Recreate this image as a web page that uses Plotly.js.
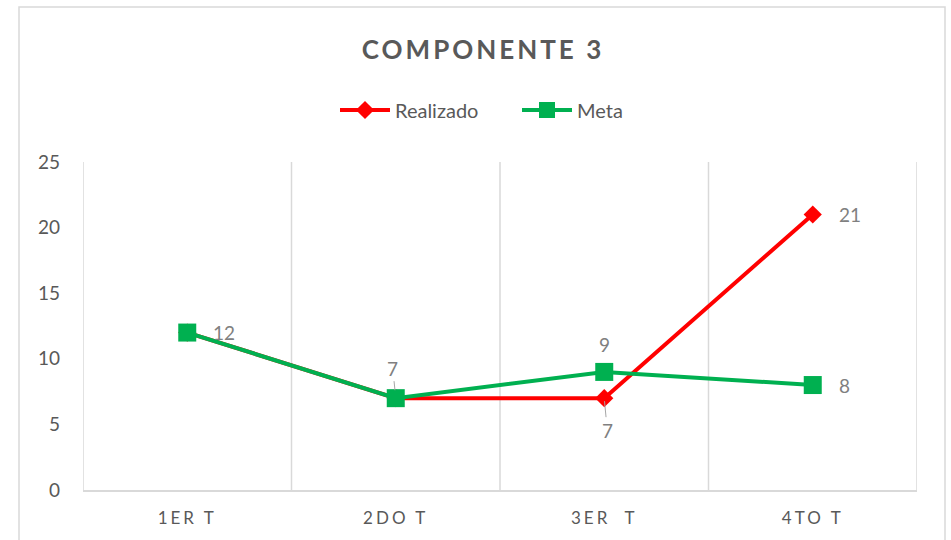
<!DOCTYPE html>
<html>
<head>
<meta charset="utf-8">
<script src="https://cdn.plot.ly/plotly-3.0.1.min.js"></script>
<style>
  html, body { margin: 0; padding: 0; background: #fff; }
  #chart { width: 951px; height: 540px; }
</style>
</head>
<body>
<div id="chart"></div>
<script>
// ---- data ----
const categories = ["1ER T", "2DO T", "3ER  T", "4TO T"];
const realizado = [12, 7, 7, 21];
const meta = [12, 7, 9, 8];
const yTicks = [0, 5, 10, 15, 20, 25];

const FONT = "Lato, 'Open Sans', sans-serif";
const idx = categories.map((c, i) => i);

const traces = [
  {
    name: "Realizado", type: "scatter", mode: "lines+markers",
    x: idx, y: realizado,
    line: { color: "#FF0000", width: 4 },
    marker: { symbol: "diamond", size: 14, color: "#FF0000" }
  },
  {
    name: "Meta", type: "scatter", mode: "lines+markers",
    x: idx, y: meta,
    line: { color: "#00B050", width: 4 },
    marker: { symbol: "square", size: 18, color: "#00B050" }
  }
];

const lblFont = { family: FONT, size: 19, color: "#808080" };
const annotations = [
  { x: 0, y: meta[0], text: String(meta[0]), xanchor: "left", xshift: 24, showarrow: false },
  { x: 1, y: meta[1], text: String(meta[1]), showarrow: true, ax: -3, ay: -30, arrowhead: 0, arrowwidth: 1, arrowcolor: "#A6A6A6", standoff: 8 },
  { x: 2, y: meta[2], text: String(meta[2]), showarrow: false, yshift: 27 },
  { x: 2, y: realizado[2], text: String(realizado[2]), showarrow: true, ax: 3, ay: 32, arrowhead: 0, arrowwidth: 1, arrowcolor: "#A6A6A6", standoff: 3 },
  { x: 3, y: realizado[3], text: String(realizado[3]), xanchor: "left", xshift: 24, showarrow: false },
  { x: 3, y: meta[3], text: String(meta[3]), xanchor: "left", xshift: 24, showarrow: false }
].map(a => Object.assign({ xref: "x", yref: "y", font: lblFont }, a));

const L = 83, R = 34, T = 162, B = 50, W = 951, H = 540;
const pw = W - L - R, ph = H - T - B;
const toPx = (px) => (px - L) / pw;
const toPy = (py) => (H - B - py) / ph;

const layout = {
  width: W, height: H,
  margin: { l: L, r: R, t: T, b: B },
  paper_bgcolor: "#ffffff", plot_bgcolor: "#ffffff",
  font: { family: FONT, color: "#595959" },
  title: {
    text: "<b>COMPONENTE 3</b>",
    font: { family: FONT, size: 26, color: "#595959" },
    x: 483 / W, xanchor: "center", xref: "container",
    y: 1 - 50 / H, yanchor: "middle", yref: "container"
  },
  showlegend: true,
  legend: {
    orientation: "h", xref: "container", yref: "container",
    x: 335 / W, xanchor: "left", y: 1 - 110 / H, yanchor: "middle",
    font: { family: FONT, size: 20, color: "#595959" },
    itemwidth: 50, entrywidth: 117, entrywidthmode: "pixels"
  },
  xaxis: {
    type: "linear", range: [-0.5, 3.5],
    tickmode: "array", tickvals: idx, ticktext: categories,
    showgrid: false, zeroline: false,
    showline: true, linecolor: "#D9D9D9", linewidth: 1.5,
    ticks: "", ticklabelstandoff: 12,
    tickfont: { family: FONT, size: 17, color: "#595959" },
    fixedrange: true
  },
  yaxis: {
    range: [0, 25], tickmode: "array", tickvals: yTicks,
    showgrid: false, zeroline: false, showline: false, ticks: "",
    ticklabelstandoff: 22,
    tickfont: { family: FONT, size: 19, color: "#595959" },
    fixedrange: true
  },
  shapes: [
    ...[-0.5, 0.5, 1.5, 2.5, 3.5].map(v => ({
      type: "line", xref: "x", yref: "y", x0: v, x1: v, y0: 0, y1: 25,
      line: { color: "#D9D9D9", width: 1.5 }, layer: "below"
    })),
    {
      type: "rect", xref: "paper", yref: "paper",
      x0: toPx(19), x1: toPx(945), y0: toPy(560), y1: toPy(7),
      line: { color: "#D9D9D9", width: 1.5 }, fillcolor: "rgba(0,0,0,0)", layer: "below"
    }
  ],
  annotations: annotations
};

Plotly.newPlot("chart", traces, layout, { displayModeBar: false, staticPlot: true }).then(() => {
  document.querySelectorAll(".gtitle").forEach(t => t.style.letterSpacing = "3px");
  document.querySelectorAll(".xtick text").forEach(t => t.style.letterSpacing = "3px");
});
</script>
</body>
</html>
